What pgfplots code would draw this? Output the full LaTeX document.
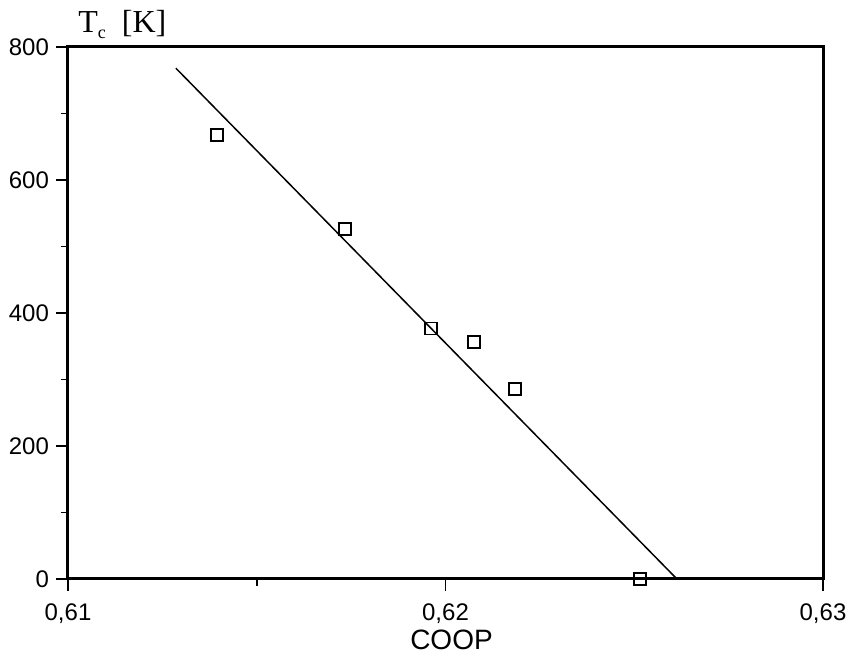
\documentclass[border=0pt]{standalone}
\usepackage{fontspec}
\setmainfont{Liberation Sans}
\newfontfamily\timesfont{Liberation Serif}
\usepackage{pgfplots}
\pgfplotsset{compat=1.18}
\begin{document}
\begin{tikzpicture}
\begin{axis}[
  name=ax,
  scale only axis,
  width=377.5pt, height=266pt,
  xmin=0.61, xmax=0.63, ymin=0, ymax=800,
  xtick={0.61,0.62,0.63},
  xticklabels={{0,61},{0,62},{0,63}},
  minor xtick={0.615,0.625},
  ytick={0,200,400,600,800},
  minor ytick={100,300,500,700},
  tick align=outside,
  major tick length=6pt,
  minor tick length=3.5pt,
  tick style={black, line width=0.9pt},
  axis line style={line width=1.5pt},
  xtick pos=bottom, ytick pos=left,
  /pgf/number format/assume math mode=true,
  ticklabel style={font=\fontsize{12}{14}\selectfont},
  xticklabel style={yshift=-3pt},
  yticklabel style={xshift=0pt},
  xlabel={COOP},
  xlabel style={font=\fontsize{14}{16}\selectfont, yshift=4pt, xshift=3pt},
  every axis y label/.style={at={(rel axis cs:0,1)}, anchor=base west, inner sep=0pt, xshift=5pt, yshift=7pt},
  ylabel={\timesfont\fontsize{16}{18}\selectfont T\raisebox{-0.4ex}{\fontsize{9}{10}\selectfont c}\ \ [K]},
  clip=false,
]
\addplot[black, line width=0.75pt] coordinates {(0.61286,768) (0.62613,0)};
\addplot[only marks, mark=square, mark size=3pt, mark options={line width=0.75pt, black}] coordinates {
(0.61395,668) (0.61734,526) (0.61962,377) (0.62075,356) (0.62184,286) (0.62515,0)};
\end{axis}
\pgfresetboundingbox
\path ([xshift=-34pt,yshift=-40pt]ax.south west) rectangle ([xshift=17pt,yshift=23.5pt]ax.north east);
\end{tikzpicture}
\end{document}
